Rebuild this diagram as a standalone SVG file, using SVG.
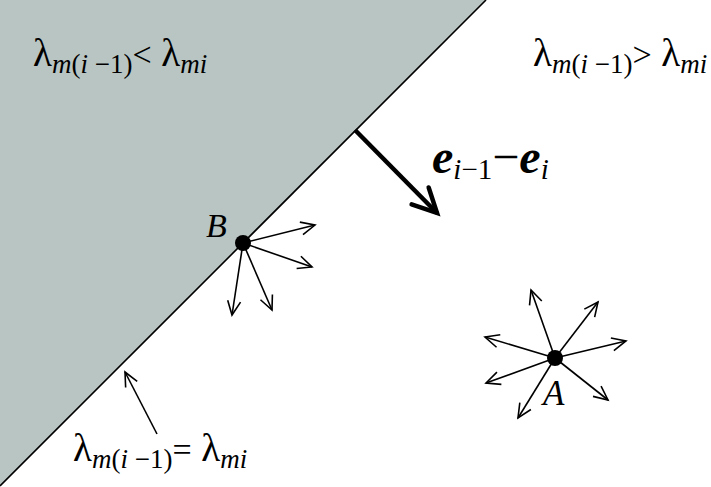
<svg xmlns="http://www.w3.org/2000/svg" width="711" height="487" viewBox="0 0 711 487">
<style>
.lab{font-family:"Liberation Serif","Times New Roman",serif;fill:#000}
.it{font-style:italic}
.thin{stroke:#000;stroke-width:1.6;fill:none}
</style>
<defs>
<marker id="ah" markerUnits="userSpaceOnUse" viewBox="-20 -10 24 20" refX="0" refY="0" markerWidth="24" markerHeight="20" orient="auto" overflow="visible">
<path d="M-14,-6.5 L0,0 L-14,6.5" fill="none" stroke="#000" stroke-width="1.6"/>
</marker>
<marker id="big" markerUnits="userSpaceOnUse" viewBox="-30 -16 34 32" refX="0" refY="0" markerWidth="34" markerHeight="32" orient="auto" overflow="visible">
<path d="M-24,-12 L0,0 L-24,12" fill="none" stroke="#000" stroke-width="4.5" stroke-linecap="round" stroke-linejoin="miter"/>
</marker>
</defs>
<rect width="711" height="487" fill="#fff"/>
<g id="region">
<polygon points="0,0 486,0 0,486" fill="#b9c5c3"/>
<line x1="486" y1="0" x2="0" y2="486" stroke="#000" stroke-width="1.6"/>
</g>
<g id="connectors">
<line x1="355" y1="130" x2="437" y2="213" stroke="#000" stroke-width="4.5" marker-end="url(#big)"/>
<line class="thin" x1="157" y1="434" x2="125" y2="372" marker-end="url(#ah)"/>
<line class="thin" x1="243" y1="243" x2="315" y2="225" marker-end="url(#ah)"/>
<line class="thin" x1="243" y1="243" x2="312" y2="267" marker-end="url(#ah)"/>
<line class="thin" x1="243" y1="243" x2="272" y2="310" marker-end="url(#ah)"/>
<line class="thin" x1="243" y1="243" x2="232" y2="315" marker-end="url(#ah)"/>
<line class="thin" x1="555" y1="358" x2="531" y2="290" marker-end="url(#ah)"/>
<line class="thin" x1="555" y1="358" x2="598" y2="302" marker-end="url(#ah)"/>
<line class="thin" x1="555" y1="358" x2="626" y2="341" marker-end="url(#ah)"/>
<line class="thin" x1="555" y1="358" x2="608" y2="400" marker-end="url(#ah)"/>
<line class="thin" x1="555" y1="358" x2="518" y2="418" marker-end="url(#ah)"/>
<line class="thin" x1="555" y1="358" x2="486" y2="383" marker-end="url(#ah)"/>
<line class="thin" x1="555" y1="358" x2="485" y2="337" marker-end="url(#ah)"/>
</g>
<g id="nodeB">
<circle cx="243" cy="243" r="8" fill="#000"/>
<text class="lab it" x="206" y="237" font-size="34">B</text>
</g>
<g id="nodeA">
<circle cx="555" cy="358" r="8" fill="#000"/>
<text class="lab it" x="543" y="405" font-size="35">A</text>
</g>
<g id="label-lt">
<text class="lab" x="33" y="66" font-size="39">λ<tspan font-size="27" dy="7"><tspan class="it">m</tspan>(<tspan class="it">i</tspan> −1)</tspan><tspan dy="-7" font-size="34">&lt;</tspan> λ<tspan font-size="27" dy="7" class="it">mi</tspan></text>
</g>
<g id="label-gt">
<text class="lab" x="533" y="66" font-size="39">λ<tspan font-size="27" dy="7"><tspan class="it">m</tspan>(<tspan class="it">i</tspan> −1)</tspan><tspan dy="-7" font-size="34">&gt;</tspan> λ<tspan font-size="27" dy="7" class="it">mi</tspan></text>
</g>
<g id="label-eq">
<text class="lab" x="73" y="461" font-size="39">λ<tspan font-size="27" dy="7"><tspan class="it">m</tspan>(<tspan class="it">i</tspan> −1)</tspan><tspan dy="-7" font-size="34">=</tspan> λ<tspan font-size="27" dy="7" class="it">mi</tspan></text>
</g>
<g id="label-e">
<text class="lab" x="432" y="173" font-size="48"><tspan font-weight="bold" font-style="italic">e</tspan><tspan font-size="29" dy="6"><tspan class="it">i</tspan>−1</tspan><tspan dy="-6">−</tspan><tspan font-weight="bold" font-style="italic">e</tspan><tspan font-size="29" dy="6" class="it">i</tspan></text>
</g>
</svg>
